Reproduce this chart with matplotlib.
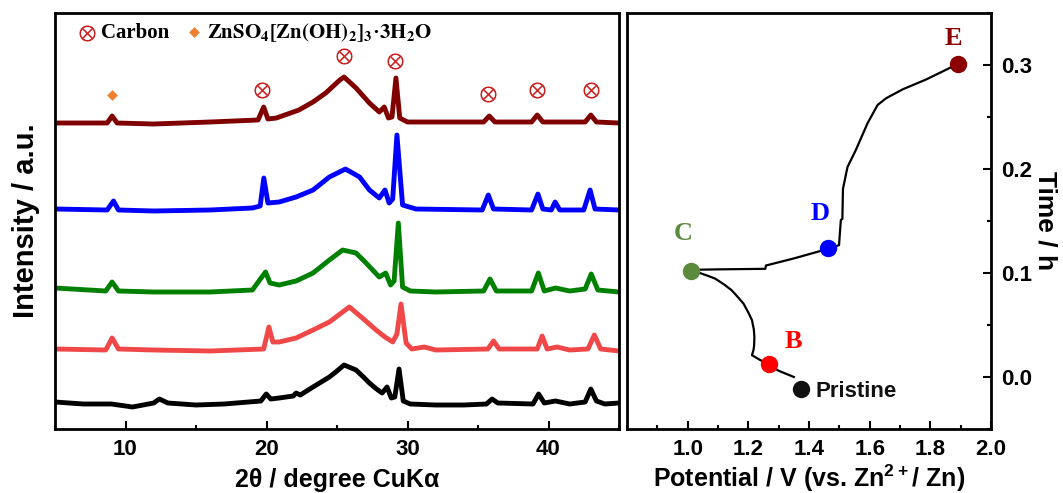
import matplotlib
matplotlib.use('Agg')
import matplotlib.pyplot as plt
from matplotlib.ticker import MultipleLocator

plt.rcParams['font.family'] = 'Liberation Sans'
plt.rcParams['font.weight'] = 'bold'
plt.rcParams['mathtext.fontset'] = 'custom'
plt.rcParams['mathtext.rm'] = 'Liberation Sans:bold'
plt.rcParams['mathtext.bf'] = 'Liberation Sans:bold'

# ---- XRD patterns (2theta, intensity a.u.), stacked ----
pristine_2t = [5, 7, 9, 10.5, 12.0, 12.4, 13, 15, 17, 19.6, 19.98, 20.3, 20.9, 21.9, 22.1, 22.4, 23.3,
               24.46, 25.0, 25.5, 26.35, 26.8, 27.3, 27.8, 28.2, 28.55, 28.85, 29.1, 29.4, 29.7, 30.2,
               32, 34, 35.6, 36.0, 36.4, 38.9, 39.3, 39.7, 40.5, 41.5, 42.6, 43.0, 43.4, 44, 45]
pristine_i = [27, 25, 25, 22, 26, 30, 26, 24, 25, 28, 35, 30, 31, 33, 36, 34, 42,
              52, 58, 64, 59, 53, 46, 40, 36, 42, 31, 32, 60, 28, 25,
              24, 24, 25, 30, 26, 25, 35, 26, 28, 25, 27, 40, 28, 25, 26]

b_2t = [5, 8.6, 9.05, 9.5, 12, 16, 19.8, 20.17, 20.45, 20.9, 22.1, 23.3, 24.46, 25.4, 25.88, 26.8,
        27.77, 28.4, 28.95, 29.25, 29.54, 29.9, 30.3, 31.2, 32, 35.7, 36.1, 36.5, 39.2, 39.55, 39.9,
        40.6, 41.5, 42.8, 43.25, 43.7, 45]
b_i = [80, 79, 91, 80, 79, 78, 80, 102, 87, 87, 91, 99, 107, 117, 122, 111,
       99, 92, 87, 95, 125, 86, 80, 82, 79, 80, 88, 80, 80, 93, 80,
       82, 79, 80, 94, 80, 78]

c_2t = [5, 8.6, 9.05, 9.5, 12, 16, 19.0, 19.93, 20.25, 20.9, 22.1, 23.3, 24.46, 25.4, 26.35, 27.06,
        28.0, 28.45, 28.8, 29.05, 29.35, 29.65, 30.2, 32, 35.4, 35.85, 36.3, 38.8, 39.28, 39.7, 40.5,
        41.5, 42.6, 43.03, 43.5, 45]
c_i = [141, 138, 147, 138, 137, 137, 139, 157, 146, 144, 148, 156, 169, 179, 176, 166,
       152, 156, 144, 148, 206, 142, 138, 137, 138, 150, 138, 138, 156, 138, 141,
       138, 140, 155, 139, 137]

d_2t = [5, 8.7, 9.15, 9.5, 12, 16, 19.0, 19.55, 19.81, 20.1, 20.9, 22.1, 23.3, 24.46, 25.6, 26.6,
        27.3, 28.0, 28.4, 28.7, 28.95, 29.25, 29.65, 30.6, 35.3, 35.73, 36.1, 38.8, 39.25, 39.6, 40.2,
        40.47, 40.8, 42.5, 42.95, 43.3, 45]
d_i = [220, 219, 228, 219, 218, 219, 221, 223, 251, 226, 227, 232, 239, 252, 260, 252,
       239, 231, 239, 226, 230, 294, 224, 220, 219, 234, 220, 219, 235, 220, 219,
       227, 219, 219, 239, 220, 219]

e_2t = [5, 8.7, 9.05, 9.4, 12, 16, 19.4, 19.8, 20.1, 20.7, 22.3, 23.3, 24.2, 25.2, 25.5, 26.35, 27.3,
        28.0, 28.35, 28.65, 28.9, 29.18, 29.45, 30.0, 35.4, 35.8, 36.2, 38.8, 39.2, 39.6, 42.6, 43.0,
        43.4, 45]
e_i = [306, 306, 313, 306, 305, 307, 309, 322, 310, 311, 319, 327, 336, 349, 352, 341, 326,
       317, 322, 311, 312, 351, 311, 307, 307, 313, 307, 307, 314, 307, 307, 314,
       307, 306]

carbon_2t = [19.7, 25.5, 29.1, 35.7, 39.2, 43.0]
carbon_y = [339, 373, 368, 335, 339, 339]
zhs_2t = [9.05]
zhs_y = [334]

# ---- potential / time curve ----
pot = [1.350, 1.300, 1.265, 1.235, 1.212, 1.217, 1.219, 1.220, 1.218, 1.212, 1.200, 1.184, 1.165,
       1.145, 1.120, 1.090, 1.060, 1.035, 1.005,
       1.100, 1.256, 1.258, 1.350, 1.460, 1.499, 1.505, 1.510, 1.512, 1.527, 1.554, 1.593, 1.626,
       1.654, 1.709, 1.787, 1.891]
time_h = [0.000, 0.006, 0.0122, 0.017, 0.021, 0.026, 0.030, 0.0385, 0.046, 0.0546, 0.062, 0.0706, 0.077,
          0.0834, 0.089, 0.0947, 0.098, 0.1005, 0.1030,
          0.1035, 0.1040, 0.1072, 0.1140, 0.1230, 0.1268, 0.151, 0.152, 0.181, 0.202, 0.218, 0.244, 0.2615,
          0.268, 0.2766, 0.2862, 0.301]

state_names = ['Pristine', 'B', 'C', 'D', 'E']
state_pot = [1.375, 1.268, 1.012, 1.462, 1.891]
state_time = [-0.0115, 0.0122, 0.1017, 0.1236, 0.301]
state_colors = ['#111111', '#ff0000', '#5b8a3a', '#0000ff', '#8b0000']
trace_colors = ['#000000', '#f04848', '#008000', '#0000ff', '#800000']

fig = plt.figure(figsize=(10.63, 4.93), dpi=100)
ax1 = fig.add_axes([55 / 1063, 64 / 493, 564 / 1063, 416 / 493])
ax2 = fig.add_axes([627 / 1063, 64 / 493, 364 / 1063, 416 / 493])

traces = [(pristine_2t, pristine_i), (b_2t, b_i), (c_2t, c_i), (d_2t, d_i), (e_2t, e_i)]
for (tt, ii), col in zip(traces, trace_colors):
    ax1.plot(tt, ii, color=col, lw=3.5, solid_joinstyle='round')

ax1.scatter(carbon_2t, carbon_y, marker=r'$\otimes$', s=120, color='#cc2020', edgecolors='#cc2020',
            linewidths=0.6)
ax1.scatter(zhs_2t, zhs_y, marker='D', s=30, color='#f08030', linewidths=0)

# legend-like header
ax1.scatter([0.057], [0.953], marker=r'$\otimes$', s=120, color='#cc2020', edgecolors='#cc2020',
            linewidths=0.6, transform=ax1.transAxes, clip_on=False)
ax1.text(0.081, 0.953, 'Carbon', transform=ax1.transAxes, family='Liberation Serif',
         weight='bold', fontsize=15, va='center', ha='left')
ax1.scatter([0.247], [0.955], marker='D', s=30, color='#f08030', linewidths=0,
            transform=ax1.transAxes, clip_on=False)
ax1.text(0.27, 0.953, r'$\mathbf{ZnSO_4[Zn(OH)_2]_3}$·$\mathbf{3H_2O}$', transform=ax1.transAxes,
         family='Liberation Serif', weight='bold', fontsize=15, va='center', ha='left',
         math_fontfamily='stix')

ax1.set_xlim(5, 45)
ax1.set_ylim(0, 416)
ax1.set_yticks([])
ax1.xaxis.set_major_locator(MultipleLocator(10))
ax1.xaxis.set_minor_locator(MultipleLocator(5))
ax1.tick_params(axis='x', which='major', direction='in', length=6, width=1.5, labelsize=16, pad=7)
ax1.tick_params(axis='x', which='minor', direction='in', length=3, width=1.5)
ax1.set_xlabel('2θ / degree CuKα', fontsize=18, weight='bold', labelpad=6)
ax1.set_ylabel('Intensity / a.u.', fontsize=21, weight='bold', labelpad=11)

ax2.plot(pot, time_h, color='black', lw=1.6)
for n, x, y, c in zip(state_names, state_pot, state_time, state_colors):
    ax2.plot(x, y, 'o', color=c, ms=11.5, zorder=5)

ax2.text(1.875, 0.3257, 'E', color='#8b0000', family='Liberation Serif', weight='bold', fontsize=19,
         ha='center', va='center')
ax2.text(1.438, 0.157, 'D', color='#0000ff', family='Liberation Serif', weight='bold', fontsize=19,
         ha='center', va='center')
ax2.text(0.985, 0.138, 'C', color='#5b8a3a', family='Liberation Serif', weight='bold', fontsize=19,
         ha='center', va='center')
ax2.text(1.35, 0.0337, 'B', color='#ff0000', family='Liberation Serif', weight='bold', fontsize=19,
         ha='center', va='center')
ax2.text(1.42, -0.0144, 'Pristine', color='#111111', fontsize=16, weight='bold', ha='left', va='center')

ax2.set_xlim(0.8, 2.0)
ax2.set_ylim(-0.05, 0.35)
ax2.xaxis.set_minor_locator(MultipleLocator(0.1))
ax2.yaxis.set_major_locator(MultipleLocator(0.1))
ax2.yaxis.set_minor_locator(MultipleLocator(0.05))
ax2.set_xticks([1.0, 1.2, 1.4, 1.6, 1.8, 2.0])
ax2.set_xticklabels(['1.0', '1.2', '1.4', '1.6', '1.8', '2.0'])
ax2.yaxis.tick_right()
ax2.yaxis.set_label_position('right')
ax2.tick_params(which='major', direction='in', length=6, width=1.5, labelsize=16, pad=7)
ax2.tick_params(which='minor', direction='in', length=3, width=1.5)
ax2.set_xlabel(r'Potential / V (vs. Zn$^{2+}$/ Zn)', fontsize=18, weight='bold', labelpad=2)
ax2.set_ylabel('Time / h', fontsize=19, weight='bold', rotation=270, va='bottom', labelpad=1)

for ax in (ax1, ax2):
    for s in ax.spines.values():
        s.set_linewidth(2)

fig.savefig('out.png', dpi=100)
